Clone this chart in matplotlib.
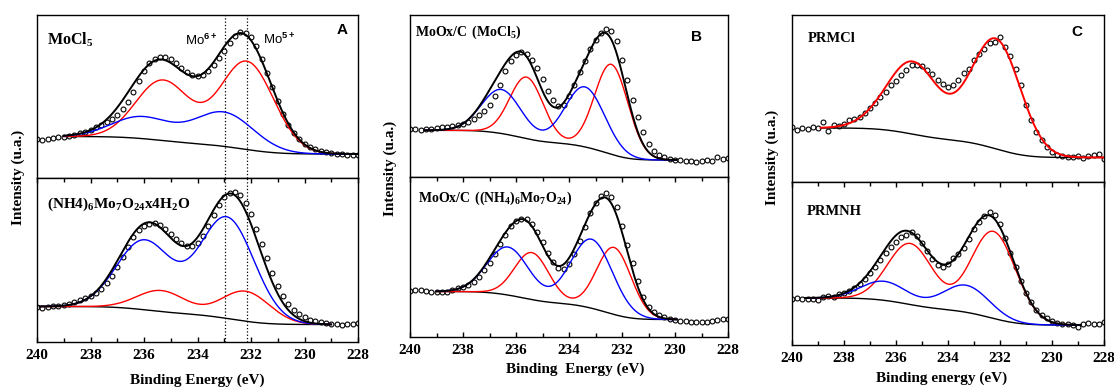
import numpy as np
import matplotlib.pyplot as plt
from matplotlib.ticker import MultipleLocator

plt.rcParams['font.family'] = 'Liberation Serif'
plt.rcParams['font.weight'] = 'bold'
plt.rcParams['mathtext.fontset'] = 'custom'
plt.rcParams['mathtext.rm'] = 'Liberation Serif:bold'
plt.rcParams['mathtext.bf'] = 'Liberation Serif:bold'
plt.rcParams['mathtext.sf'] = 'Liberation Sans'

# measured Mo 3d points, 240 eV down to 228 eV in 0.2 eV steps (arbitrary units)
E_START = 240.0
E_STEP = 0.2

A1_points = [39, 38.5, 39.5, 40.5, 41.5, 41, 42.5, 43.5, 45.5, 46.5, 48.5, 51, 53, 56.5, 59.5, 63,
             69, 76.5, 86, 97, 107, 115, 119.5, 121.5, 121, 119, 115.5, 110.5, 106, 103.5, 102,
             103, 107, 113, 120, 127.5, 135, 142, 146.5, 145.5, 141, 132, 119, 105, 91, 77, 64,
             53, 45, 39, 34.5, 31, 29, 27, 26, 25, 24, 24.5, 23.5, 23, 23.5]
A2_points = [35, 34.5, 35.5, 36, 36, 37, 38.5, 40.5, 42, 44.5, 46, 49, 53, 59, 66, 75, 85, 95,
             105, 112, 116.5, 118.5, 119, 117, 113, 108, 103, 99, 96.5, 96, 99, 106, 116, 127,
             137, 145, 149.5, 150.5, 147, 139, 128, 113, 98, 84, 69, 56, 46, 38, 32, 28, 25,
             22.5, 21, 20, 19, 18, 18.5, 17.5, 18, 18.5, 19]
B1_points = [48.5, 48, 47, 47.5, 48.5, 49, 49.5, 50, 50.5, 51.5, 53, 55, 58, 62, 66, 72, 81, 92,
             106, 116, 122, 125, 123, 117, 109, 98, 86, 77, 71, 72, 81, 92, 105, 116, 128, 137,
             144, 148, 146, 136, 117, 97, 77, 60, 45, 33, 26, 22, 19.5, 18, 17, 16.5, 15.5, 16,
             15, 15.5, 17, 16, 19.5, 18, 19]
B2_points = [46.5, 47, 47, 46, 45.5, 45, 45, 45.5, 47, 49.5, 50.5, 52, 55, 60, 67, 74, 83, 93,
             102, 111, 116, 117.5, 117.5, 113, 105, 95, 84, 75, 69.5, 68.5, 73, 83, 96, 110, 124,
             134, 141, 143.5, 140, 130, 111, 92, 74, 56, 40, 30, 25, 22, 20, 18.5, 17.5, 16.5,
             16, 15.5, 15, 15.5, 15.5, 16.5, 17.5, 18, 18.5]
C1_points = [55, 52, 54, 53, 55, 54, 60, 51, 56.5, 56, 58, 62, 63, 65, 69, 74, 79, 85, 90, 97,
             101, 107, 112, 116.5, 117, 115.5, 111.5, 107.5, 101.5, 97.5, 94.5, 96.5, 101.5, 109,
             113, 121.5, 128, 133, 139, 140, 145, 135, 126, 113, 97, 77, 62, 50, 42, 35, 30, 27,
             26, 25, 25, 26, 23.5, 26, 27, 28, 23]
C2_points = [46.5, 47.5, 46, 46.5, 46.5, 45, 48.5, 49, 48.5, 51, 52.5, 54, 57, 61.5, 66, 72, 78,
             85, 92, 98, 103, 107.5, 110, 112.5, 108.5, 102, 94, 86, 80.5, 78, 81, 87, 91, 97,
             106, 115.5, 123, 129, 132.5, 130, 121, 107, 92, 78, 64, 52, 43, 35, 30, 27, 24.5,
             22, 21, 21, 20, 18.5, 21, 22, 21.5, 21, 23]

# fitted doublets: (centres [3d5/2, 3d3/2] in eV, heights, sigma in eV)
A1_red = ([232.15, 235.30], [88, 60], 1.0)
A1_blue = ([233.00, 236.10], [34, 21.5], 1.1)
A2_red = ([232.20, 235.35], [30, 21], 0.9)
A2_blue = ([232.90, 236.00], [101, 69], 1.02)
B1_red = ([232.40, 235.60], [90, 61.5], 0.63)
B1_blue = ([233.40, 236.55], [60, 44], 0.75)
B2_red = ([232.30, 235.40], [67, 47], 0.65)
B2_blue = ([233.15, 236.30], [69, 48], 0.79)
C1_main = ([232.05, 235.25], [96, 60], 0.9)
C1_minor = ([233.00, 236.15], [22, 17], 0.95)
C2_red = ([232.25, 235.45], [87, 61], 0.86)
C2_blue = ([233.30, 236.45], [27, 19], 0.89)

# Shirley background levels (high-BE side, low-BE side) and fitted energy range
A1_bg, A1_range = (41.5, 24), (239.0, 228.0)
A2_bg, A2_range = (35.5, 17.5), (239.9, 229.0)
B1_bg, B1_range = (46.7, 17), (239.45, 229.95)
B2_bg, B2_range = (45.5, 17.5), (239.0, 229.95)
C1_bg, C1_range = (54, 24.5), (238.9, 228.0)
C2_bg, C2_range = (47, 20), (239.5, 228.9)

mo_lines = [232.97, 232.16]
ticks = [240, 238, 236, 234, 232, 230, 228]

W, H = 1114, 389
fig = plt.figure(figsize=(W / 100, H / 100), dpi=100)


def add_ax(l, t, r, b):
    ax = fig.add_axes([l / W, 1 - b / H, (r - l) / W, (b - t) / H])
    ax.set_xlim(240, 228)
    ax.set_ylim(0, b - t)
    ax.set_yticks([])
    for s in ax.spines.values():
        s.set_linewidth(1.0)
    return ax


def doublet(e, comp):
    centres, heights, sigma = comp
    y = np.zeros_like(e)
    for c, h in zip(centres, heights):
        y += h * np.exp(-(e - c) ** 2 / (2 * sigma ** 2))
    return y


def draw(ax, points, erange, bg_ends, comps, colours, env_colour='black'):
    e_pts = E_START - E_STEP * np.arange(len(points))
    ax.plot(e_pts, points, 'o', ms=3.5, mfc='white', mec='black', mew=0.8, zorder=2)
    e = np.linspace(erange[0], erange[1], 400)
    g = [doublet(e, c) for c in comps]
    total = np.sum(g, axis=0)
    area = np.cumsum(total[::-1])[::-1]
    bg = bg_ends[1] + (bg_ends[0] - bg_ends[1]) * area / area[0]
    ax.plot(e, bg, color='black', lw=1.0, zorder=3)
    for gi, col in zip(g, colours):
        if col:
            ax.plot(e, bg + gi, color=col, lw=1.0, zorder=3)
    ax.plot(e, bg + total, color=env_colour, lw=1.4, zorder=4)


def style_bottom(ax):
    ax.set_xticks(ticks)
    ax.xaxis.set_minor_locator(MultipleLocator(1))
    ax.tick_params(axis='x', which='both', direction='in', top=True, width=1.0)
    ax.tick_params(axis='x', which='major', length=3.6, labelsize=11, pad=5)
    ax.tick_params(axis='x', which='minor', length=3)
    for lab in ax.get_xticklabels():
        lab.set_fontweight('bold')


a1 = add_ax(37, 15, 358, 178)
a2 = add_ax(37, 178, 358, 342)
b1 = add_ax(410, 15, 728, 177)
b2 = add_ax(410, 177, 728, 337)
c1 = add_ax(792, 15, 1104, 182)
c2 = add_ax(792, 182, 1104, 345)
for ax in (a1, b1, c1):
    ax.set_xticks([])
for ax in (a2, b2, c2):
    style_bottom(ax)

draw(a1, A1_points, A1_range, A1_bg, [A1_red, A1_blue], ['red', 'blue'])
draw(a2, A2_points, A2_range, A2_bg, [A2_red, A2_blue], ['red', 'blue'])
draw(b1, B1_points, B1_range, B1_bg, [B1_red, B1_blue], ['red', 'blue'])
draw(b2, B2_points, B2_range, B2_bg, [B2_red, B2_blue], ['red', 'blue'])
draw(c1, C1_points, C1_range, C1_bg, [C1_main, C1_minor], [None, None], env_colour='red')
draw(c2, C2_points, C2_range, C2_bg, [C2_red, C2_blue], ['red', 'blue'])

for ax in (a1, a2):
    for x in mo_lines:
        ax.axvline(x, color='black', ls=':', lw=0.9, zorder=1)


def ftext(x, y, s, **kw):
    fig.text(x / W, 1 - y / H, s, **kw)


# sample labels
ftext(47, 40, r'$\mathbf{MoCl_5}$', fontsize=11.5, va='center')
ftext(47, 204, r'$\mathbf{(NH4)_6Mo_7O_{24}x4H_2O}$', fontsize=11, va='center')
ftext(415, 32, r'$\mathbf{MoOx/C\ (MoCl_5)}$', fontsize=10, va='center')
ftext(418, 198, r'$\mathbf{MoOx/C\ ((NH_4)_6Mo_7O_{24})}$', fontsize=10, va='center')
ftext(808, 39, 'PRMCl', fontsize=10.5, fontweight='bold', va='center')
ftext(807, 212, 'PRMNH', fontsize=10.5, fontweight='bold', va='center')

# panel letters and Mo oxidation-state marks
for x, y, s in [(342, 30, 'A'), (697, 37, 'B'), (1077, 32, 'C')]:
    ftext(x, y, s, fontsize=11, fontweight='bold', family='Liberation Sans',
          ha='center', va='center')
ftext(218, 40, r'Mo$^{\mathsf{6+}}$', fontsize=9.5, family='Liberation Sans',
      fontweight='normal', ha='right', va='center')
ftext(263, 39, r'Mo$^{\mathsf{5+}}$', fontsize=9.5, family='Liberation Sans',
      fontweight='normal', ha='left', va='center')

# axis titles
for x, y in [(18, 177), (390, 168), (772, 157)]:
    ftext(x, y, 'Intensity (u.a.)', fontsize=11, fontweight='bold', rotation=90,
          ha='center', va='center')
ftext(197, 380, 'Binding Energy (eV)', fontsize=11, fontweight='bold', ha='center', va='center')
ftext(575, 369, 'Binding  Energy (eV)', fontsize=11, fontweight='bold', ha='center', va='center')
ftext(942, 378, 'Binding energy (eV)', fontsize=11, fontweight='bold', ha='center', va='center')

fig.savefig('out.png', dpi=100)
